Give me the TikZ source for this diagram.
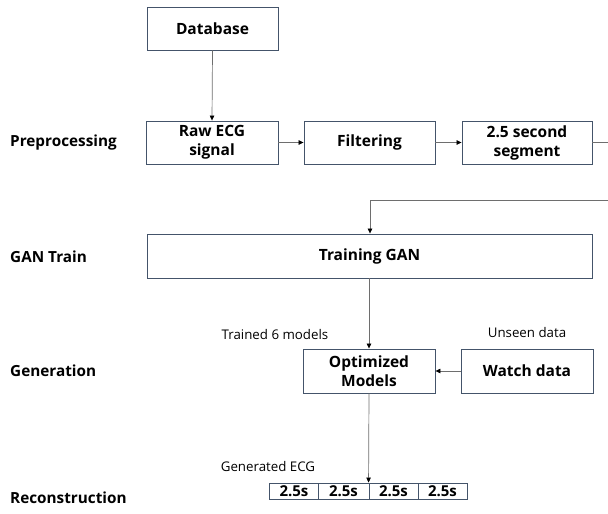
\documentclass[tikz,border=0pt]{standalone}
\usepackage{fontspec}
\setmainfont{Open Sans}
\usetikzlibrary{arrows.meta}
\definecolor{boxc}{RGB}{68,84,106}
\definecolor{linec}{RGB}{110,110,110}
\begin{document}
\begin{tikzpicture}[x=1pt,y=-1pt,
  box/.style={draw=boxc,line width=0.9pt,rectangle,minimum height=43pt,align=center,font=\fontsize{15.5}{19}\selectfont\bfseries,inner sep=0pt},
  cell/.style={draw=boxc,line width=0.9pt,rectangle,minimum height=16pt,minimum width=49pt,inner sep=0pt,font=\fontsize{15}{16}\selectfont\bfseries},
  stage/.style={anchor=west,font=\fontsize{15.3}{17}\selectfont\bfseries,inner sep=0pt},
  note/.style={font=\fontsize{13.3}{15}\selectfont,inner sep=0pt},
  conn/.style={draw=linec,line width=0.7pt},
  arr/.style={conn,-{Triangle[length=5pt,width=4.5pt,fill=black,color=black]}}
]
\useasboundingbox (0,0) rectangle (608,514);
% stage labels
\node[stage] (s1) at (10,143) {Preprocessing};
\node[stage] (s2) at (10,257) {GAN Train};
\node[stage] (s3) at (10,371) {Generation};
\node[stage] (s4) at (10,498) {Reconstruction};
% boxes
\node[box,minimum width=131pt] (db) at (212.5,28.5) {Database};
\node[box,minimum width=132pt] (raw) at (212,142.5) {Raw ECG\\signal};
\node[box,minimum width=131pt] (filt) at (369.5,142.5) {Filtering};
\node[box,minimum width=130pt] (seg) at (527,142.5) {2.5 second\\segment};
\node[box,minimum width=445pt,minimum height=44pt] (gan) at (369.5,256) {Training GAN};
\node[box,minimum width=132pt,minimum height=44pt] (opt) at (369,371) {Optimized\\Models};
\node[box,minimum width=132pt,minimum height=44pt] (watch) at (527,371) {Watch data};
% reconstruction cells
\node[cell] (c1) at (294,491) {2.5s};
\node[cell,minimum width=51pt] (c2) at (343.5,491) {2.5s};
\node[cell] (c3) at (393.5,491) {2.5s};
\node[cell] (c4) at (442.5,491) {2.5s};
% notes
\node[note] (n1) at (275,335) {Trained 6 models};
\node[note] (n2) at (527,333) {Unseen data};
\node[note] (n3) at (268,467) {Generated ECG};
% connectors
\draw[arr] (db.south) -- (raw.north);
\draw[arr] (raw) -- (filt);
\draw[arr] (filt) -- (seg);
\coordinate (e1) at (608,142.5);
\coordinate (e2) at (608,200);
\coordinate (e3) at (370,200);
\draw[conn] (seg.east) -- (e1);
\draw[arr] (e2) -- (e3) -- (gan.north -| e3);
\draw[arr] (gan.south -| opt.north) -- (opt.north);
\draw[arr] (watch.west) -- (opt.east);
\draw[arr] (opt.south) -- (c3.north west);
\end{tikzpicture}
\end{document}
